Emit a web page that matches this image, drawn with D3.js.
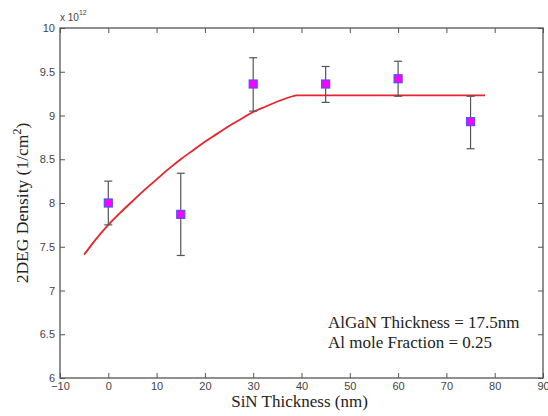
<!DOCTYPE html>
<html><head><meta charset="utf-8">
<script src="https://cdn.jsdelivr.net/npm/d3@7"></script>
<style>body{margin:0;background:#fff}svg{display:block}</style>
</head><body>
<svg id="c" width="548" height="416"></svg>
<script>
// Measured data (SiN thickness nm, 2DEG density x1e12 /cm^2)
const sinThickness = [0, 15, 30, 45, 60, 75];
const density = [8.00, 7.87, 9.36, 9.36, 9.42, 8.93];
const errLow = [7.75, 7.40, 9.05, 9.15, 9.22, 8.62];
const errHigh = [8.25, 8.34, 9.66, 9.56, 9.62, 9.22];
// Model curve
const fitX = [-5, -2.5, 0, 2.5, 5, 7.5, 10, 12.5, 15, 17.5, 20, 22.5, 25, 27.5, 30, 32.5, 35, 37, 38.5, 39, 78];
const fitY = [7.41, 7.59, 7.75, 7.89, 8.02, 8.15, 8.27, 8.39, 8.50, 8.60, 8.70, 8.79, 8.88, 8.96, 9.04, 9.10, 9.16, 9.20, 9.225, 9.23, 9.23];
const xTicks = [-10, 0, 10, 20, 30, 40, 50, 60, 70, 80, 90];
const yTicks = [6, 6.5, 7, 7.5, 8, 8.5, 9, 9.5, 10];
const annotation = ["AlGaN Thickness = 17.5nm", "Al mole Fraction = 0.25"];

const svg = d3.select("#c");
const L = 60, R = 543, T = 28, B = 378;
const x = d3.scaleLinear().domain([-10, 90]).range([L, R]);
const y = d3.scaleLinear().domain([6, 10]).range([B, T]);
const axisColor = "#555";
const tickFont = "Arial, 'Liberation Sans', sans-serif";

function styleAxis(g, showLabels) {
  g.select(".domain").remove();
  g.selectAll(".tick line").attr("stroke", axisColor).attr("stroke-width", 1);
  g.selectAll(".tick text").attr("fill", "#444").style("font-family", tickFont).style("font-size", "11px");
  if (!showLabels) g.selectAll(".tick text").remove();
}

svg.append("g").attr("transform", `translate(0,${B})`)
  .call(d3.axisBottom(x).tickValues(xTicks).tickSize(-5).tickPadding(4).tickFormat(d3.format("d")))
  .call(g => styleAxis(g, true));
svg.append("g").attr("transform", `translate(0,${T})`)
  .call(d3.axisTop(x).tickValues(xTicks).tickSize(-5).tickFormat(""))
  .call(g => styleAxis(g, false));
svg.append("g").attr("transform", `translate(${L},0)`)
  .call(d3.axisLeft(y).tickValues(yTicks).tickSize(-5).tickPadding(5).tickFormat(d => d3.format("")(d)))
  .call(g => styleAxis(g, true));
svg.append("g").attr("transform", `translate(${R},0)`)
  .call(d3.axisRight(y).tickValues(yTicks).tickSize(-5).tickFormat(""))
  .call(g => styleAxis(g, false));

svg.append("rect").attr("x", L).attr("y", T).attr("width", R - L).attr("height", B - T)
  .attr("fill", "none").attr("stroke", axisColor).attr("stroke-width", 1.3);

// exponent label
const ex = svg.append("text").attr("x", L).attr("y", 21)
  .style("font-family", tickFont).style("font-size", "10px").attr("fill", "#444");
ex.append("tspan").text("x 10");
ex.append("tspan").attr("dy", -6).style("font-size", "7px").text("12");

// fit line
const line = d3.line().x((d, i) => x(fitX[i])).y((d, i) => y(fitY[i])).curve(d3.curveMonotoneX);
svg.append("path").datum(fitX).attr("d", line).attr("fill", "none")
  .attr("stroke", "#e8232a").attr("stroke-width", 1.8).attr("stroke-linejoin", "round");

// error bars
const eb = svg.append("g").attr("stroke", "#555").attr("stroke-width", 1.2);
sinThickness.forEach((t, i) => {
  eb.append("line").attr("x1", x(t)).attr("x2", x(t)).attr("y1", y(errLow[i])).attr("y2", y(errHigh[i]));
  [errLow[i], errHigh[i]].forEach(v => eb.append("line")
    .attr("x1", x(t) - 4).attr("x2", x(t) + 4).attr("y1", y(v)).attr("y2", y(v)));
});

// markers
svg.append("g").selectAll("rect").data(sinThickness).join("rect")
  .attr("x", d => x(d) - 4).attr("y", (d, i) => y(density[i]) - 4)
  .attr("width", 8).attr("height", 8)
  .attr("fill", "#ff00ff").attr("stroke", "#5050ff").attr("stroke-width", 1.2);

const serif = "'Liberation Serif', 'Times New Roman', serif";
// axis labels
svg.append("text").attr("x", (L + R) / 2 - 2).attr("y", 407).attr("text-anchor", "middle")
  .style("font-family", serif).style("font-size", "17px").attr("fill", "#222")
  .text("SiN Thickness (nm)");
const yl = svg.append("text").attr("transform", `translate(28,${(T + B) / 2}) rotate(-90)`)
  .attr("text-anchor", "middle").style("font-family", serif).style("font-size", "17.5px").attr("fill", "#222");
yl.append("tspan").text("2DEG Density (1/cm");
yl.append("tspan").attr("dy", -7).style("font-size", "12px").text("2");
yl.append("tspan").attr("dy", 7).text(")");

// annotation
svg.append("g").selectAll("text").data(annotation).join("text")
  .attr("x", 328).attr("y", (d, i) => 328 + i * 20)
  .style("font-family", serif).style("font-size", "17px").attr("fill", "#222")
  .text(d => d);
</script>
</body></html>
